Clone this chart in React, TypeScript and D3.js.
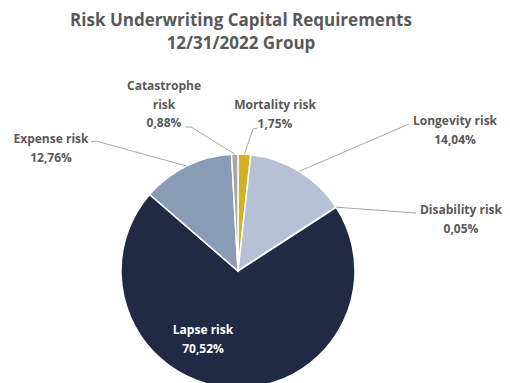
import React from "react";
import * as d3 from "d3";

const categories = ["Mortality risk", "Longevity risk", "Disability risk", "Lapse risk", "Expense risk", "Catastrophe risk"];
const values = [1.75, 14.04, 0.05, 70.52, 12.76, 0.88];
const valueLabels = ["1,75%", "14,04%", "0,05%", "70,52%", "12,76%", "0,88%"];
const colors = ["#d4af26", "#b5c2d5", "#7f7f7f", "#202a45", "#8a9bb8", "#a6a6a6"];
const titleLines = ["Risk Underwriting Capital Requirements", "12/31/2022 Group"];

// label layout: text lines, text center, leader line anchor points
const labelLayout = [
  { lines: ["Mortality risk", "1,75%"], x: 275, y: 109, hook: [[257, 128], [253, 129]] },
  { lines: ["Longevity risk", "14,04%"], x: 455, y: 125, hook: [[409, 124]] },
  { lines: ["Disability risk", "0,05%"], x: 461, y: 214, hook: [[416, 213]] },
  { lines: ["Lapse risk", "70,52%"], x: 203, y: 334, hook: null },
  { lines: ["Expense risk", "12,76%"], x: 51, y: 143, hook: [[91, 142], [96, 141]] },
  { lines: ["Catastrophe", "risk", "0,88%"], x: 164, y: 90, hook: [[186, 127], [191, 127]] },
];

const FONT = "'Open Sans', 'Noto Sans', sans-serif";

export default function App() {
  const cx = 238, cy = 271, r = 117;
  const pie = d3.pie<number>().sort(null).value((d) => d).startAngle(0).endAngle(2 * Math.PI);
  const arcs = pie(values);
  const arc = d3.arc<d3.PieArcDatum<number>>().innerRadius(0).outerRadius(r);
  const lineH = 18.5;

  return (
    <svg width={510} height={383} style={{ position: "absolute", left: 0, top: 0, background: "#fff" }}>
      {titleLines.map((t, i) => (
        <text key={i} x={241} y={26 + i * 23} textAnchor="middle" fontFamily={FONT} fontWeight={700} fontSize={17} fill="#595959">{t}</text>
      ))}
      <g transform={`translate(${cx},${cy})`}>
        {arcs.map((a, i) => (
          <path key={i} d={arc(a) || ""} fill={colors[i]} stroke="#fff" strokeWidth={1.5} />
        ))}
      </g>
      {arcs.map((a, i) => {
        const L = labelLayout[i];
        if (!L.hook) return null;
        const mid = (a.startAngle + a.endAngle) / 2;
        const ex = cx + Math.sin(mid) * r;
        const ey = cy - Math.cos(mid) * r;
        const pts = [...L.hook.map((p) => p as [number, number]), [ex, ey] as [number, number]];
        return <path key={"l" + i} d={d3.line()(pts) || ""} fill="none" stroke="#a6a6a6" strokeWidth={1} />;
      })}
      {labelLayout.map((L, i) => (
        <text key={"t" + i} textAnchor="middle" fontFamily={FONT} fontWeight={700} fontSize={12} fill={i === 3 ? "#ffffff" : "#595959"}>
          {L.lines.map((ln, j) => (
            <tspan key={j} x={L.x} y={L.y + j * lineH}>{ln}</tspan>
          ))}
        </text>
      ))}
      <text style={{ display: "none" }}>{categories.join(",")}{valueLabels.join(",")}</text>
    </svg>
  );
}
